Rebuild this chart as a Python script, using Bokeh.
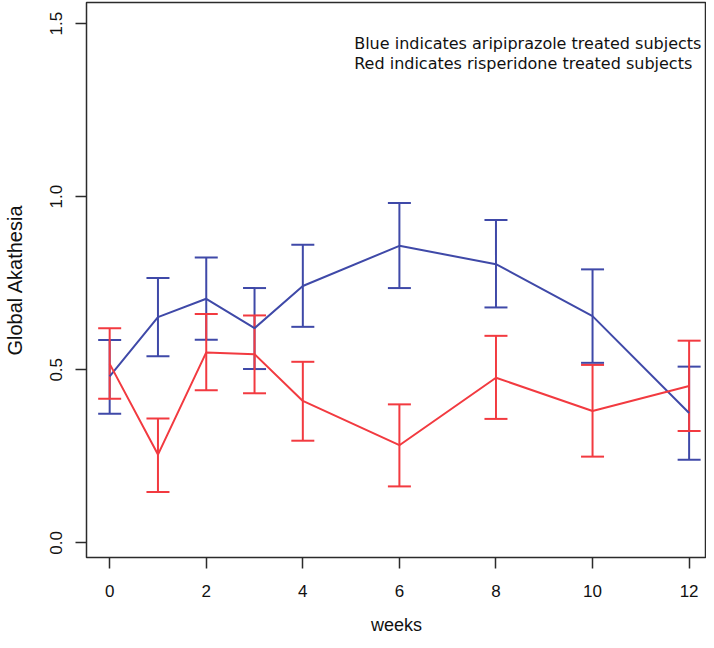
from bokeh.plotting import figure
from bokeh.models import ColumnDataSource, Whisker, TeeHead, Label, Range1d, FixedTicker, PrintfTickFormatter
from bokeh.embed import file_html
from bokeh.resources import INLINE

weeks = [0, 1, 2, 3, 4, 6, 8, 10, 12]
ari_mean = [0.481, 0.652, 0.705, 0.620, 0.742, 0.858, 0.805, 0.655, 0.375]
ari_lower = [0.373, 0.539, 0.587, 0.502, 0.624, 0.736, 0.680, 0.520, 0.240]
ari_upper = [0.586, 0.765, 0.824, 0.736, 0.861, 0.982, 0.933, 0.790, 0.509]
ris_mean = [0.517, 0.255, 0.550, 0.545, 0.410, 0.282, 0.477, 0.381, 0.453]
ris_lower = [0.416, 0.147, 0.441, 0.432, 0.295, 0.163, 0.358, 0.249, 0.323]
ris_upper = [0.620, 0.359, 0.661, 0.657, 0.523, 0.400, 0.598, 0.514, 0.584]
x_ticks = [0, 2, 4, 6, 8, 10, 12]
y_ticks = [0.0, 0.5, 1.0, 1.5]
notes = ["Blue indicates aripiprazole treated subjects",
         "Red indicates risperidone treated subjects"]

BLUE = "#3F49A8"
RED = "#F23A40"
AXIS = "#2b2b2b"

p = figure(width=706, height=640, output_backend="svg", toolbar_location=None,
           x_range=Range1d(-0.48, 12.36), y_range=Range1d(-0.0424, 1.561),
           min_border_left=85, min_border_right=0, min_border_top=2, min_border_bottom=83,
           x_axis_label="weeks", y_axis_label="Global Akathesia")
p.grid.visible = False
p.outline_line_color = AXIS
p.outline_line_width = 1.5
p.background_fill_color = "white"
p.border_fill_color = "white"

for ax in (p.xaxis[0], p.yaxis[0]):
    ax.axis_line_color = None
    ax.major_tick_line_color = AXIS
    ax.major_tick_line_width = 1.5
    ax.major_tick_out = 11
    ax.major_tick_in = 0
    ax.minor_tick_line_color = None
    ax.major_label_text_font = "Liberation Sans"
    ax.major_label_text_font_size = "17px"
    ax.major_label_text_color = "#111111"
    ax.axis_label_text_font = "Liberation Sans"
    ax.axis_label_text_font_style = "normal"
    ax.axis_label_text_color = "#111111"

p.xaxis.axis_label_text_font_size = "18px"
p.yaxis.axis_label_text_font_size = "20px"
p.xaxis.ticker = FixedTicker(ticks=x_ticks)
p.yaxis.ticker = FixedTicker(ticks=y_ticks)
p.yaxis.formatter = PrintfTickFormatter(format="%.1f")
p.yaxis.major_label_orientation = "vertical"
p.xaxis.major_label_standoff = 16
p.xaxis.axis_label_standoff = 15
p.yaxis.major_label_standoff = 13
p.yaxis.axis_label_standoff = 22

src_a = ColumnDataSource(dict(x=weeks, m=ari_mean, lo=ari_lower, hi=ari_upper))
src_r = ColumnDataSource(dict(x=weeks, m=ris_mean, lo=ris_lower, hi=ris_upper))

p.line("x", "m", source=src_a, line_color=BLUE, line_width=2)
p.add_layout(Whisker(source=src_a, base="x", lower="lo", upper="hi", dimension="height",
                     line_color=BLUE, line_width=2,
                     upper_head=TeeHead(size=23, line_color=BLUE, line_width=2),
                     lower_head=TeeHead(size=23, line_color=BLUE, line_width=2)))
p.line("x", "m", source=src_r, line_color=RED, line_width=2)
p.add_layout(Whisker(source=src_r, base="x", lower="lo", upper="hi", dimension="height",
                     line_color=RED, line_width=2,
                     upper_head=TeeHead(size=23, line_color=RED, line_width=2),
                     lower_head=TeeHead(size=23, line_color=RED, line_width=2)))

for i, t in enumerate(notes):
    p.add_layout(Label(x=267.7, y=514.3 - 20 * i, x_units="screen", y_units="screen",
                       text=t, text_font="DejaVu Sans", text_font_size="16px",
                       text_color="#111111", text_baseline="middle", text_align="left"))

open("out.html", "w").write(file_html(p, INLINE))
